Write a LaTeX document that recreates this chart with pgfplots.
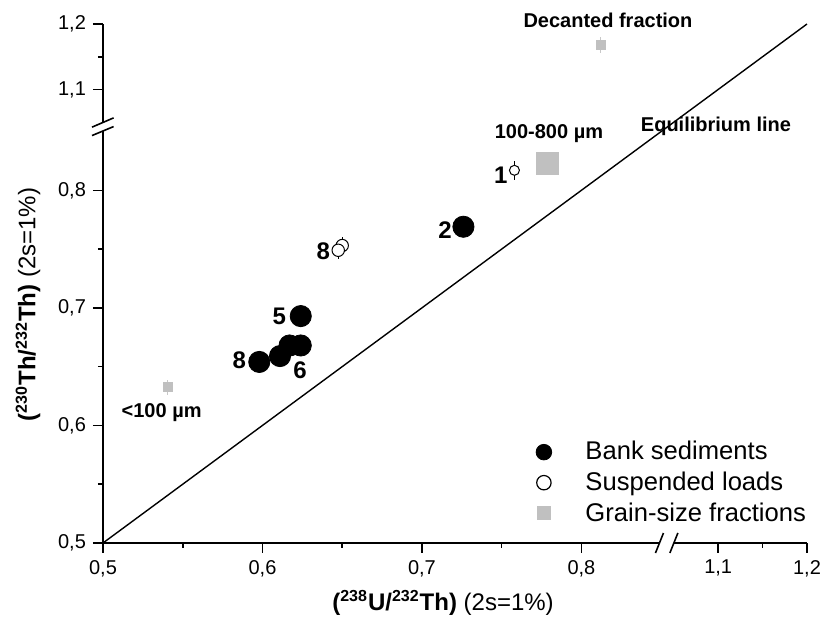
\documentclass[border=0pt]{standalone}
\usepackage{fontspec}
\setmainfont{Liberation Sans}
\usepackage{pgfplots}
\pgfplotsset{compat=1.18}
\usepackage{pgfplotstable}
\definecolor{grainfill}{RGB}{192,192,192}
\definecolor{grainerr}{RGB}{200,200,200}

\pgfplotstableread{
x y ey
0.726 0.769 0.0077
0.624 0.693 0.0069
0.624 0.668 0.0067
0.617 0.668 0.0067
0.611 0.659 0.0066
0.598 0.654 0.0065
}\bank

\pgfplotstableread{
x y ey
0.758 0.817 0.0082
}\suspA

\pgfplotstableread{
x y ey
0.650 0.753 0.0075
0.6475 0.749 0.0075
}\suspB

\pgfplotstableread{
x y ey
0.7785 0.823 0.0082
}\grainBig

% error of the decanted fraction is given on the compressed upper y segment
\pgfplotstableread{
x y ey
0.5405 0.6325 0.0063
0.812 1.168 0.0065
}\grainSmall

\begin{document}
\begin{tikzpicture}
\useasboundingbox (-51.5pt,-39.5pt) rectangle (362pt,271.5pt);
\begin{axis}[
  at={(0,0)}, anchor=south west,
  scale only axis, width=352pt, height=259.5pt,
  axis lines=left, axis line style={-, line width=0.8pt},
  x coord trafo/.code={\pgfmathparse{ifthenelse(#1<0.95,#1,0.854+(#1-1.043)*0.557)}},
  y coord trafo/.code={\pgfmathparse{ifthenelse(#1<0.95,#1,0.854+(#1-1.043)*0.557)}},
  xmin=0.5, xmax=1.2, ymin=0.5, ymax=1.2,
  enlargelimits=false,
  xtick={0.5,0.6,0.7,0.8,1.1,1.2},
  xticklabels={{0,5},{0,6},{0,7},{0,8},{1,1},{1,2}},
  ytick={0.5,0.6,0.7,0.8,1.1,1.2},
  yticklabels={{0,5},{0,6},{0,7},{0,8},{1,1},{1,2}},
  minor xtick={0.55,0.65,0.75,1.15},
  minor ytick={0.55,0.65,0.75,1.15},
  tick align=outside, major tick length=5pt, minor tick length=2.5pt,
  tick style={black, line width=0.8pt},
  ticklabel style={font=\fontsize{10}{12}\selectfont},
  clip=false,
  xlabel={\textbf{(\textsuperscript{238}U/\textsuperscript{232}Th)} (2s=1\%)},
  ylabel={\textbf{(\textsuperscript{230}Th/\textsuperscript{232}Th)} (2s=1\%)},
  xlabel style={at={(axis description cs:0.483,-0.1156)}, anchor=center, font=\fontsize{12}{14}\selectfont},
  ylabel style={at={(axis description cs:-0.1065,0.4595)}, anchor=center, font=\fontsize{12}{14}\selectfont},
  legend style={draw=none, fill=none, at={(0.597,0.212)}, anchor=north west,
    font=\fontsize{12.8}{15.5}\selectfont, row sep=0.5pt},
  legend cell align=left,
  legend image code/.code={\path[draw=none, fill=none] (0cm,0cm) rectangle (0.91cm,0cm);
     \draw[#1] plot[only marks] coordinates {(0.25cm,0cm)};},
]
% legend entries
\addlegendimage{only marks, mark=*, black, mark size=3.9pt}
\addlegendentry{Bank sediments}
\addlegendimage{only marks, mark=*, black, mark size=3.6pt, mark options={fill=white, line width=0.6pt}}
\addlegendentry{Suspended loads}
\addlegendimage{only marks, mark=square*, grainfill, mark size=3.3pt}
\addlegendentry{Grain-size fractions}

% equilibrium line
\addplot[black, line width=0.7pt, forget plot] coordinates {(0.5,0.5) (1.2,1.2)};

% grain-size fractions
\addplot[only marks, mark=square*, mark size=5.5pt, grainfill, forget plot,
  error bars/.cd, y dir=both, y explicit, error mark=none,
  error bar style={grainerr, line width=0.6pt}]
  table[x=x, y=y, y error=ey] {\grainBig};
\addplot[only marks, mark=square*, mark size=2.3pt, grainfill, forget plot,
  error bars/.cd, y dir=both, y explicit, error mark=none,
  error bar style={grainerr, line width=0.6pt}]
  table[x=x, y=y, y error=ey] {\grainSmall};

% suspended loads
\addplot[only marks, mark=*, mark size=2.5pt, black, forget plot,
  mark options={fill=white, line width=0.5pt},
  error bars/.cd, y dir=both, y explicit, error mark=none,
  error bar style={black, line width=0.4pt}]
  table[x=x, y=y, y error=ey] {\suspA};
\addplot[only marks, mark=*, mark size=3.1pt, black, forget plot,
  mark options={fill=white, line width=0.5pt},
  error bars/.cd, y dir=both, y explicit, error mark=none,
  error bar style={black, line width=0.4pt}]
  table[x=x, y=y, y error=ey] {\suspB};

% bank sediments
\addplot[only marks, mark=*, mark size=5.3pt, black, forget plot,
  error bars/.cd, y dir=both, y explicit, error mark=none,
  error bar style={black, line width=0.4pt}]
  table[x=x, y=y, y error=ey] {\bank};

% annotations
\node[font=\bfseries\fontsize{10}{12}\selectfont] at (rel axis cs:0.7173,1.0077) {Decanted fraction};
\node[font=\bfseries\fontsize{10}{12}\selectfont] at (rel axis cs:0.6335,0.7894) {100-800 µm};
\node[font=\bfseries\fontsize{10}{12}\selectfont] at (rel axis cs:0.8707,0.8035) {Equilibrium line};
\node[font=\bfseries\fontsize{10}{12}\selectfont] at (rel axis cs:0.0833,0.2511) {<100 µm};
\node[font=\bfseries\fontsize{12}{14}\selectfont] at (rel axis cs:0.5649,0.7091) {1};
\node[font=\bfseries\fontsize{12}{14}\selectfont] at (rel axis cs:0.4858,0.6031) {2};
\node[font=\bfseries\fontsize{12}{14}\selectfont] at (rel axis cs:0.3130,0.5613) {8};
\node[font=\bfseries\fontsize{12}{14}\selectfont] at (rel axis cs:0.2505,0.4361) {5};
\node[font=\bfseries\fontsize{12}{14}\selectfont] at (rel axis cs:0.1937,0.3526) {8};
\node[font=\bfseries\fontsize{12}{14}\selectfont] at (rel axis cs:0.2798,0.3333) {6};

\coordinate (xb) at (rel axis cs:0.8018,0);
\coordinate (yb) at (rel axis cs:0,0.8018);
\end{axis}
% axis breaks
\fill[white] ([xshift=-4pt,yshift=-1.5pt]xb) rectangle ([xshift=3.2pt,yshift=1.5pt]xb);
\draw[line width=0.8pt] ([xshift=-6pt,yshift=-5pt]xb) -- ([xshift=-2pt,yshift=5pt]xb);
\draw[line width=0.8pt] ([xshift=1.2pt,yshift=-5pt]xb) -- ([xshift=5.2pt,yshift=5pt]xb);
\fill[white] ([xshift=-1.5pt,yshift=-2.2pt]yb) rectangle ([xshift=1.5pt,yshift=2.2pt]yb);
\draw[line width=0.8pt] ([xshift=-5.5pt,yshift=-0.15pt]yb) -- ([xshift=5.3pt,yshift=4.5pt]yb);
\draw[line width=0.8pt] ([xshift=-5.5pt,yshift=-4.35pt]yb) -- ([xshift=5.3pt,yshift=0.15pt]yb);
\end{tikzpicture}
\end{document}
